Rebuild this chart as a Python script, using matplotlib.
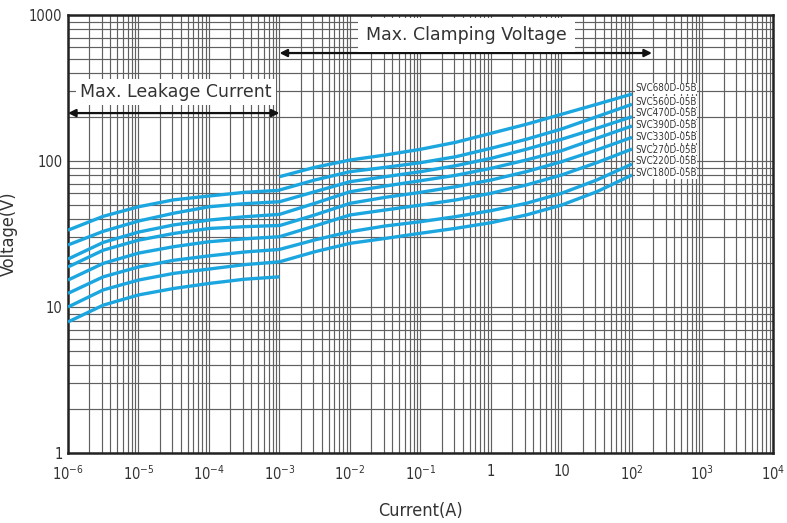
import numpy as np
import matplotlib
matplotlib.use("Agg")
from matplotlib import pyplot as plt
from matplotlib.ticker import LogLocator, NullFormatter, FixedLocator

plt.rcParams['font.family'] = ['DejaVu Sans']
plt.rcParams['font.stretch'] = 'condensed'
plt.rcParams['mathtext.default'] = 'regular'

# current points (A)
leak_x = [1e-6, 10**-5.5, 1e-5, 10**-4.5, 1e-4, 10**-3.5, 1e-3]
clamp_x = [1e-3, 10**-2.5, 1e-2, 10**-1.5, 1e-1, 10**-0.5, 1, 10**0.5, 10, 10**1.5, 100]

models = ['SVC680D-05B', 'SVC560D-05B', 'SVC470D-05B', 'SVC390D-05B',
          'SVC330D-05B', 'SVC270D-05B', 'SVC220D-05B', 'SVC180D-05B']

leak_v680 = [33.6, 41.8, 48.6, 54.2, 57.6, 61.0, 63.0]
leak_v560 = [26.6, 33.0, 38.8, 43.9, 48.6, 51.0, 52.6]
leak_v470 = [21.3, 27.7, 32.6, 36.5, 39.4, 41.5, 43.1]
leak_v390 = [18.8, 24.5, 28.7, 31.9, 34.5, 35.5, 36.2]
leak_v330 = [15.3, 19.9, 23.4, 25.9, 28.0, 29.3, 30.3]
leak_v270 = [12.4, 16.1, 18.8, 20.9, 22.4, 23.8, 24.8]
leak_v220 = [10.0, 13.1, 15.3, 17.0, 18.2, 19.5, 20.4]
leak_v180 = [7.9, 10.3, 12.1, 13.4, 14.5, 15.5, 16.1]

# voltage
clamp_v680 = [78.1, 90.5, 101.6, 109.9, 120.3, 134.3, 154.8, 178.4, 208.9, 244.6, 287.6]
clamp_v560 = [63.3, 74.1, 84.5, 90.5, 97.4, 107.0, 122.2, 140.8, 165.6, 201.1, 244.6]
clamp_v470 = [52.6, 61.6, 72.2, 78.1, 84.5, 92.9, 104.3, 120.3, 140.8, 167.5, 201.1]
clamp_v390 = [43.1, 51.3, 61.6, 67.4, 73.3, 79.8, 89.1, 101.6, 117.6, 143.1, 173.7]
clamp_v330 = [36.1, 42.7, 51.3, 56.4, 61.0, 66.7, 74.1, 84.5, 98.9, 119.0, 145.3]
clamp_v270 = [30.3, 35.9, 42.7, 46.2, 49.9, 54.1, 60.1, 68.5, 80.2, 97.4, 120.8]
clamp_v220 = [24.8, 28.8, 32.8, 35.9, 38.4, 41.6, 45.7, 51.3, 60.1, 74.1, 95.4]
clamp_v180 = [20.4, 23.9, 27.3, 29.5, 32.0, 34.6, 37.8, 42.7, 49.9, 61.6, 80.2]

leak_all = [leak_v680, leak_v560, leak_v470, leak_v390, leak_v330, leak_v270, leak_v220, leak_v180]
clamp_all = [clamp_v680, clamp_v560, clamp_v470, clamp_v390, clamp_v330, clamp_v270, clamp_v220, clamp_v180]

# where the model names sit
label_y = [315, 255, 212, 176, 145, 119, 99.5, 82.4]

x_ticks = [1e-6, 1e-5, 1e-4, 1e-3, 1e-2, 1e-1, 1, 10, 1e2, 1e3, 1e4]
x_labels = ['$10^{-6}$', '$10^{-5}$', '$10^{-4}$', '$10^{-3}$', '$10^{-2}$', '$10^{-1}$',
            '1', '10', '$10^{2}$', '$10^{3}$', '$10^{4}$']
y_ticks = [1, 10, 100, 1000]
y_labels = ['1', '10', '100', '1000']

blue = '#1ba6e0'
txt = '#333333'

fig = plt.figure(figsize=(7.87, 5.23), dpi=100)
ax = fig.add_axes([0.0864, 0.1338, 0.8958, 0.8375])
ax.set_xscale('log')
ax.set_yscale('log')
ax.set_xlim(1e-6, 1e4)
ax.set_ylim(1, 1000)

ax.xaxis.set_major_locator(FixedLocator(x_ticks))
ax.xaxis.set_minor_locator(LogLocator(base=10, subs=np.arange(2, 10), numticks=100))
ax.yaxis.set_major_locator(FixedLocator(y_ticks))
ax.yaxis.set_minor_locator(LogLocator(base=10, subs=np.arange(2, 10), numticks=100))
ax.xaxis.set_minor_formatter(NullFormatter())
ax.yaxis.set_minor_formatter(NullFormatter())
ax.set_xticklabels(x_labels)
ax.set_yticklabels(y_labels)
ax.tick_params(which='both', length=0, labelsize=10.5, colors=txt)
ax.tick_params(axis='x', pad=8)
ax.tick_params(axis='y', pad=4)

ax.grid(which='both', color='#606060', lw=0.85)
ax.set_axisbelow(True)
for s in ax.spines.values():
    s.set_linewidth(1.8)
    s.set_color('#222222')

for i in range(len(models)):
    ax.plot(leak_x, leak_all[i], color=blue, lw=2.4, solid_capstyle='butt', zorder=3)
    ax.plot(clamp_x, clamp_all[i], color=blue, lw=2.4, solid_capstyle='butt', zorder=3)
    ax.text(110, label_y[i], models[i], fontsize=7, color=txt, va='center', ha='left',
            bbox=dict(facecolor='white', edgecolor='none', pad=0.3), zorder=4)

# range annotations
ax.annotate('', xy=(1e-6, 213), xytext=(1e-3, 213),
            arrowprops=dict(arrowstyle='<|-|>', color='#111111', lw=1.6,
                            shrinkA=0, shrinkB=0, mutation_scale=11), zorder=5)
ax.text(3.4e-5, 297, 'Max. Leakage Current', fontsize=12.5, color=txt, ha='center', va='center',
        fontstretch='normal', bbox=dict(facecolor='white', edgecolor='none', pad=3), zorder=5)
ax.annotate('', xy=(1e-3, 549), xytext=(192, 549),
            arrowprops=dict(arrowstyle='<|-|>', color='#111111', lw=1.6,
                            shrinkA=0, shrinkB=0, mutation_scale=11), zorder=5)
ax.text(0.45, 729, 'Max. Clamping Voltage', fontsize=12.5, color=txt, ha='center', va='center',
        fontstretch='normal', bbox=dict(facecolor='white', edgecolor='none', pad=6), zorder=5)

ax.set_xlabel('Current(A)', fontsize=13, color=txt, labelpad=14)
ax.set_ylabel('Voltage(V)', fontsize=13, color=txt)
ax.yaxis.set_label_coords(-0.071, 0.5)

fig.savefig('out.png', dpi=100)
